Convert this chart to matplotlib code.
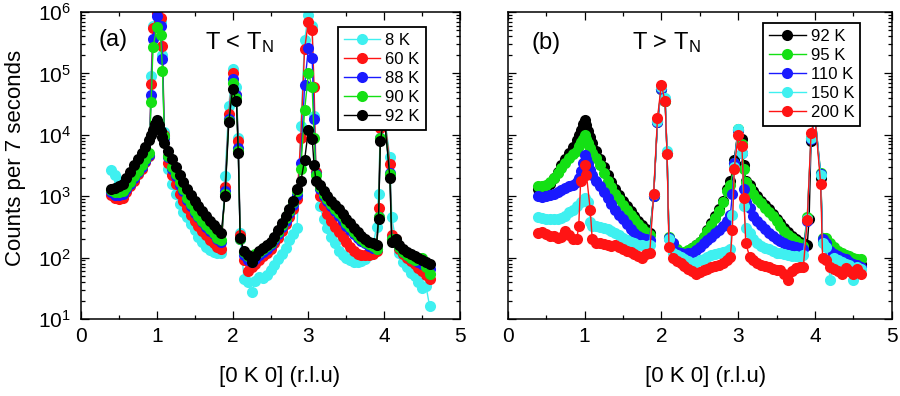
import numpy as np
import matplotlib
matplotlib.use('Agg')
import matplotlib.pyplot as plt
from matplotlib.ticker import LogLocator, MultipleLocator, NullFormatter, FixedLocator

plt.rcParams['font.family'] = ['Liberation Sans', 'DejaVu Sans']
plt.rcParams['mathtext.fontset'] = 'custom'
plt.rcParams['mathtext.rm'] = 'Liberation Sans'
plt.rcParams['mathtext.it'] = 'Liberation Sans:italic'

nan = np.nan

# ---- scan positions [0 K 0] (r.l.u) ----
K = [0.40, 0.45, 0.50, 0.55, 0.60, 0.65, 0.70, 0.75, 0.80, 0.85,
     0.900, 0.925, 0.950, 0.975, 1.000, 1.025, 1.050, 1.075, 1.100,
     1.15, 1.20, 1.25, 1.30, 1.35, 1.40, 1.45, 1.50, 1.55, 1.60, 1.65, 1.70, 1.75, 1.80, 1.85,
     1.900, 1.925, 1.950, 1.975, 2.000, 2.025, 2.050, 2.075, 2.100,
     2.15, 2.20, 2.25, 2.30, 2.35, 2.40, 2.45, 2.50, 2.55, 2.60, 2.65, 2.70, 2.75, 2.80, 2.85,
     2.900, 2.925, 2.950, 2.975, 3.000, 3.025, 3.050, 3.075, 3.100,
     3.15, 3.20, 3.25, 3.30, 3.35, 3.40, 3.45, 3.50, 3.55, 3.60, 3.65, 3.70, 3.75, 3.80, 3.85,
     3.900, 3.925, 3.950, 3.975, 4.000, 4.025, 4.050, 4.075, 4.100,
     4.15, 4.20, 4.25, 4.30, 4.35, 4.40, 4.45, 4.50, 4.55, 4.60]

# ---- counts per 7 s ----
c92K = [1300, 1350, 1450, 1600, 1950, 2500, 3200, 4000, 5000, 6400,
        8200, 10000, 12000, 15000, 17500, 14500, 11500, 9300, 7400,
        5500, 4000, 3000, 2200, 1700, 1300, 1050, 850, 700, 580, 480, 400, 340, 290, 250,
        1000, nan, 16000, nan, 55000, nan, 35000, 5000, 205,
        130, 110, 85, 105, 130, 145, 160, 180, 220, 280, 360, 470, 620, 850, 1300,
        1750, nan, 3900, nan, 12000, nan, 8700, 3200, 1800,
        1500, 1200, 1000, 850, 720, 610, 520, 430, 360, 300, 260, 225, 200, 180, 170,
        160, 430, 8000, nan, 20000, nan, nan, 2000, 180,
        200, 160, 140, 125, 115, 105, 98, 90, 85, 78]

c8K = [2700, 2200, 1800, 1500, 1300, 1500, 1850, 2300, 2900, 3700,
       4500, 90000, 600000, nan, 1000000, nan, 700000, 200000, 11000,
       2800, 1600, 1100, 750, 560, 450, 350, 280, 220, 180, 150, 135, 125, 118, 117,
       2100, nan, 30000, nan, 120000, nan, 60000, 9000, 250,
       45, 40, 28, 42, 48, 47, 52, 62, 75, 95, 115, 145, 190, 240, 300,
       14000, nan, 350000, nan, 900000, nan, 600000, 20000, 2500,
       700, 420, 300, 220, 170, 130, 110, 100, 92, 85, 85, 88, 95, 110, 150,
       320, 1100, 14000, nan, 22000, nan, nan, 4300, 450,
       200, 120, 85, 70, 56, 50, 40, 32, 35, 16]

c60K = [1050, 950, 900, 950, 1150, 1450, 1800, 2300, 2800, 3600,
        4500, 68000, 540000, nan, 950000, nan, 800000, 280000, 10000,
        3500, 2200, 1600, 1100, 850, 650, 500, 400, 330, 270, 230, 190, 170, 150, 140,
        1400, nan, 22000, nan, 100000, nan, 45000, 8000, 230,
        90, 60, 70, 80, 90, 105, 120, 140, 170, 210, 270, 350, 460, 620, 900,
        9000, nan, 250000, nan, 700000, nan, 500000, 60000, 2500,
        1000, 700, 520, 400, 320, 260, 215, 180, 150, 130, 115, 110, 110, 110, 115,
        130, 650, 13000, nan, 22000, nan, nan, 3300, 230,
        200, 140, 115, 100, 88, 78, 68, 60, 52, 45]

c88K = [1150, 1050, 1050, 1100, 1300, 1600, 2000, 2500, 3000, 3800,
        4700, 45000, 370000, nan, 850000, nan, 600000, 170000, 9000,
        4300, 2800, 2100, 1550, 1200, 880, 700, 540, 450, 380, 320, 270, 240, 200, 180,
        1200, nan, 18000, nan, 80000, nan, 45000, 6000, 200,
        110, 90, 85, 95, 110, 125, 140, 160, 195, 245, 310, 400, 530, 720, 1050,
        3500, nan, 65000, nan, 260000, nan, 180000, 18000, 2300,
        1300, 1000, 820, 680, 570, 480, 400, 330, 280, 240, 210, 185, 170, 155, 145,
        140, 450, 9000, nan, 20000, nan, nan, 2400, 200,
        180, 150, 125, 110, 100, 90, 85, 80, 72, 65]

c90K = [1250, 1150, 1150, 1200, 1400, 1700, 2100, 2600, 3200, 4000,
        5000, 34000, 270000, nan, 560000, nan, 430000, 110000, 9500,
        4500, 3000, 2300, 1700, 1300, 950, 750, 580, 480, 400, 340, 290, 250, 210, 190,
        1100, nan, 17000, nan, 70000, nan, 40000, 5500, 200,
        125, 105, 95, 115, 125, 140, 155, 175, 210, 265, 340, 440, 580, 800, 1200,
        2800, nan, 25000, nan, 100000, nan, 60000, 9000, 2200,
        1400, 1100, 900, 750, 630, 530, 450, 370, 310, 260, 225, 200, 180, 165, 155,
        140, 450, 9000, nan, 20000, nan, nan, 2300, 200,
        190, 150, 125, 110, 100, 92, 95, 100, 70, 55]

c95K = [1450, 1450, 1550, 1700, 2000, 2400, 2900, 3500, 4200, 4900,
        5500, 6500, 7500, 8700, 10000, 8700, 7300, 6000, 5000,
        4200, 3200, 2400, 1800, 1400, 1100, 900, 730, 600, 500, 420, 350, 300, 260, 230,
        1000, nan, 17000, nan, 55000, nan, 36000, 5000, 220,
        170, 140, 120, 125, 135, 145, 160, 180, 215, 270, 340, 440, 580, 800, 1200,
        1500, nan, 3500, nan, 12500, nan, 7000, 2800, 1700,
        1350, 1080, 900, 770, 650, 550, 470, 390, 325, 270, 235, 205, 185, 165, 155,
        450, nan, 9000, nan, 20000, nan, nan, 2400, 210,
        210, 170, 150, 130, 120, 110, 105, 100, 95, 95]

c110K = [1000, 980, 1000, 1050, 1100, 1150, 1250, 1350, 1450, 1550,
         1700, 2000, 2600, 3500, 4700, 4000, 3300, 2700, 2200,
         1800, 1450, 1150, 930, 750, 600, 500, 420, 350, 290, 250, 225, 210, 200, 195,
         1000, nan, 16000, nan, 55000, nan, 38000, 5000, 210,
         170, 125, 117, 115, 117, 120, 135, 150, 170, 195, 220, 250, 285, 330, 400,
         500, 1100, 3500, nan, 12000, nan, 5000, 1300, 800,
         650, 480, 400, 340, 290, 255, 225, 200, 185, 172, 162, 155, 150, 145, 140,
         400, nan, 8500, nan, 20000, nan, nan, 2300, 200,
         170, 130, 115, 105, 100, 95, 85, 80, 75, 70]

c150K = [460, 440, 420, 430, 430, 420, 440, 480, 560, 600,
         700, nan, 800, nan, 950, nan, 800, 380, 330,
         330, 320, 300, 290, 270, 250, 230, 210, 195, 180, 170, 160, 160, 155, 160,
         1100, nan, 17000, nan, 60000, nan, 40000, 5500, 200,
         120, 110, 104, 95, 88, 81, 85, 90, 95, 104, 110, 115, 120, 125, 130,
         140, 500, 3000, nan, 12500, nan, 5000, 700, 300,
         250, 200, 170, 155, 145, 140, 130, 120, 117, 115, 110, 108, 105, 104, 110,
         420, nan, 9000, nan, 20000, nan, nan, 2200, 170,
         150, 43, 100, 90, 85, 80, 75, 43, 70, 65]

c200K = [250, 260, 240, 225, 225, 210, 220, 270, 230, 200,
         200, 330, 1750, nan, 3200, 2250, nan, 600, 200,
         175, 170, 165, 160, 155, 160, 150, 140, 130, 125, 115, 105, 100, 115, 120,
         1100, nan, 18500, nan, 65000, nan, 35000, 4800, 150,
         97, 88, 81, 72, 65, 60, 55, 58, 63, 66, 70, 72, 76, 81, 90,
         104, 280, 2800, nan, 10000, nan, 6500, 930, 170,
         104, 90, 81, 75, 72, 70, 66, 63, 62, 55, 43, 60, 67, 70, 71,
         410, nan, 10500, nan, 20000, nan, nan, 1600, 100,
         90, 71, 65, 60, 55, 68, 60, 55, 65, 55]

CYAN, RED, BLUE, GREEN, BLACK = '#3ff0f0', '#ff1414', '#1a1aff', '#14e014', '#000000'

series_a = [('8 K', c8K, CYAN), ('60 K', c60K, RED), ('88 K', c88K, BLUE),
            ('90 K', c90K, GREEN), ('92 K', c92K, BLACK)]
series_b = [('92 K', c92K, BLACK), ('95 K', c95K, GREEN), ('110 K', c110K, BLUE),
            ('150 K', c150K, CYAN), ('200 K', c200K, RED)]

fig = plt.figure(figsize=(9, 3.96), dpi=100)
axa = fig.add_axes([81 / 900, 1 - 319 / 396, 379 / 900, 307 / 396])
axb = fig.add_axes([507.7 / 900, 1 - 319 / 396, 384 / 900, 307 / 396])

xk = np.array(K)


def draw(ax, series):
    for lab, vals, col in series:
        y = np.array(vals, dtype=float)
        m = ~np.isnan(y)
        ax.plot(xk[m], y[m], '-o', color=col, ms=8, mew=0, lw=1.0, label=lab)


def style(ax):
    ax.set_yscale('log')
    ax.set_xlim(0, 5)
    ax.set_ylim(10, 1e6)
    ax.xaxis.set_major_locator(FixedLocator([0, 1, 2, 3, 4, 5]))
    ax.xaxis.set_minor_locator(MultipleLocator(0.5))
    ax.yaxis.set_major_locator(LogLocator(base=10, numticks=10))
    ax.yaxis.set_minor_locator(LogLocator(base=10, subs=np.arange(2, 10), numticks=10))
    ax.yaxis.set_minor_formatter(NullFormatter())
    ax.tick_params(which='both', direction='in', top=True, right=True, width=0.9,
                   labelsize=15)
    ax.tick_params(which='major', length=5.8)
    ax.tick_params(which='minor', length=3.2)
    ax.tick_params(axis='x', pad=6)
    ax.tick_params(axis='y', pad=7)
    for s in ax.spines.values():
        s.set_linewidth(1.1)


draw(axa, series_a)
draw(axb, series_b)
style(axa)
style(axb)
axb.tick_params(labelleft=False)

axa.set_ylabel('Counts per 7 seconds', fontsize=16)
axa.yaxis.set_label_coords(-0.145, 0.525)
axa.set_xlabel('[0 K 0] (r.l.u)', fontsize=16)
axa.xaxis.set_label_coords(0.525, -0.153)
axb.set_xlabel('[0 K 0] (r.l.u)', fontsize=16)
axb.xaxis.set_label_coords(0.516, -0.153)

axa.text(0.045, 0.909, '(a)', fontsize=17, va='center', transform=axa.transAxes)
axa.text(0.327, 0.899, 'T < T$_\\mathregular{N}$', fontsize=17, va='center',
         transform=axa.transAxes)
axb.text(0.0625, 0.898, '(b)', fontsize=17, va='center', transform=axb.transAxes)
axb.text(0.323, 0.899, 'T > T$_\\mathregular{N}$', fontsize=17, va='center',
         transform=axb.transAxes)

for ax, anchor in ((axa, (0.9095, 0.952)), (axb, (0.9174, 0.965))):
    leg = ax.legend(loc='upper right', bbox_to_anchor=anchor, borderaxespad=0,
                    frameon=True, fancybox=False, edgecolor='black', framealpha=1,
                    fontsize=12, handlelength=2.2, handletextpad=0.3,
                    labelspacing=0.25, borderpad=0.35)
    leg.get_frame().set_linewidth(1.3)

fig.savefig('out.png', dpi=100)
